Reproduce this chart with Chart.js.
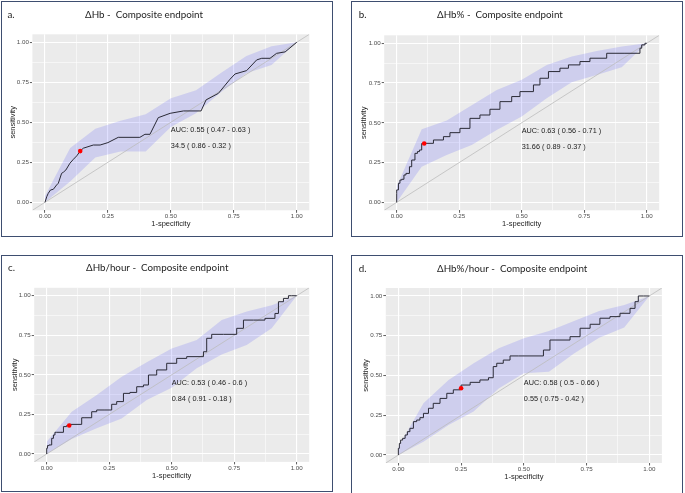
<!DOCTYPE html>
<html>
<head>
<meta charset="utf-8">
<script src="https://cdn.jsdelivr.net/npm/chart.js@4.4.0/dist/chart.umd.min.js"></script>
<style>
  html, body { margin: 0; padding: 0; background: #fff; }
  body { width: 685px; height: 493px; overflow: hidden; position: relative; }
  canvas { position: absolute; }
  .frame { position: absolute; box-sizing: border-box; border: 1.5px solid #3e4e70; pointer-events: none; }
</style>
</head>
<body>
<canvas id="chartA"></canvas>
<canvas id="chartB"></canvas>
<canvas id="chartC"></canvas>
<canvas id="chartD"></canvas>
<div class="frame" id="frameA"></div>
<div class="frame" id="frameB"></div>
<div class="frame" id="frameC"></div>
<div class="frame" id="frameD"></div>
<script>
// axis breaks (ggplot: majors labelled, minors unlabelled)
const tickValues = [0, 0.25, 0.5, 0.75, 1];
const tickLabels = ["0.00", "0.25", "0.50", "0.75", "1.00"];
const minorValues = [0.125, 0.375, 0.625, 0.875];

// specificities where the CI band was computed (as 1-specificity)
const bandFpr = [0, 0.1, 0.2, 0.3, 0.4, 0.5, 0.6, 0.7, 0.8, 0.9, 1];

// a. dHb
const aFpr = [0, 0.007, 0.013, 0.022, 0.033, 0.046, 0.053, 0.066, 0.073, 0.083, 0.099, 0.113, 0.126, 0.14, 0.152, 0.192, 0.219, 0.25, 0.291, 0.377, 0.397, 0.417, 0.45, 0.497, 0.55, 0.62, 0.64, 0.689, 0.735, 0.755, 0.801, 0.841, 0.861, 0.894, 0.92, 0.954, 1];
const aTpr = [0, 0.035, 0.056, 0.077, 0.081, 0.108, 0.119, 0.181, 0.188, 0.202, 0.244, 0.269, 0.29, 0.32, 0.338, 0.358, 0.358, 0.373, 0.406, 0.406, 0.425, 0.425, 0.529, 0.556, 0.571, 0.571, 0.64, 0.681, 0.769, 0.802, 0.823, 0.89, 0.9, 0.9, 0.931, 0.94, 1];
const aUpper = [0.04, 0.34, 0.46, 0.51, 0.55, 0.65, 0.70, 0.81, 0.915, 0.975, 1];
const aLower = [0, 0.13, 0.28, 0.317, 0.317, 0.47, 0.556, 0.69, 0.806, 0.858, 1];

// b. dHb%
const bFpr = [0, 0, 0.007, 0.013, 0.02, 0.029, 0.037, 0.051, 0.06, 0.073, 0.083, 0.091, 0.1, 0.11, 0.147, 0.187, 0.213, 0.253, 0.293, 0.333, 0.373, 0.413, 0.46, 0.493, 0.547, 0.573, 0.607, 0.653, 0.687, 0.733, 0.773, 0.84, 0.913, 0.973, 0.98, 0.993, 1];
const bTpr = [0, 0.057, 0.078, 0.12, 0.14, 0.145, 0.172, 0.182, 0.224, 0.266, 0.308, 0.319, 0.329, 0.37, 0.371, 0.392, 0.413, 0.438, 0.465, 0.528, 0.549, 0.585, 0.633, 0.665, 0.696, 0.738, 0.78, 0.822, 0.843, 0.864, 0.885, 0.906, 0.937, 0.937, 0.969, 0.99, 1];
const bUpper = [0.1, 0.46, 0.514, 0.61, 0.706, 0.77, 0.864, 0.916, 0.952, 0.979, 1];
const bLower = [0, 0.224, 0.298, 0.36, 0.455, 0.539, 0.654, 0.755, 0.8, 0.849, 1];

// c. dHb/hour
const cFpr = [0, 0.003, 0.009, 0.02, 0.027, 0.033, 0.04, 0.067, 0.08, 0.09, 0.14, 0.153, 0.18, 0.2, 0.233, 0.26, 0.28, 0.307, 0.333, 0.36, 0.387, 0.407, 0.44, 0.48, 0.52, 0.56, 0.627, 0.64, 0.66, 0.707, 0.76, 0.787, 0.827, 0.873, 0.913, 0.927, 0.947, 0.967, 0.98, 1];
const cTpr = [0, 0.036, 0.053, 0.057, 0.099, 0.12, 0.137, 0.137, 0.173, 0.18, 0.187, 0.229, 0.229, 0.267, 0.278, 0.278, 0.314, 0.331, 0.383, 0.389, 0.425, 0.436, 0.499, 0.531, 0.573, 0.604, 0.615, 0.646, 0.731, 0.756, 0.756, 0.794, 0.846, 0.846, 0.857, 0.888, 0.962, 0.983, 1, 1];
const cUpper = [0.078, 0.267, 0.373, 0.488, 0.579, 0.667, 0.72, 0.846, 0.9, 0.94, 1];
const cLower = [0, 0.095, 0.162, 0.225, 0.341, 0.419, 0.541, 0.629, 0.688, 0.794, 1];

// d. dHb%/hour
const dFpr = [0, 0.004, 0.009, 0.017, 0.027, 0.036, 0.046, 0.06, 0.073, 0.086, 0.1, 0.12, 0.139, 0.166, 0.193, 0.219, 0.246, 0.25, 0.286, 0.325, 0.359, 0.378, 0.392, 0.418, 0.445, 0.478, 0.578, 0.604, 0.624, 0.684, 0.724, 0.764, 0.803, 0.843, 0.883, 0.923, 0.943, 0.956, 0.976, 1];
const dTpr = [0, 0.042, 0.073, 0.094, 0.105, 0.126, 0.147, 0.168, 0.21, 0.22, 0.235, 0.262, 0.294, 0.325, 0.356, 0.388, 0.41, 0.42, 0.44, 0.457, 0.472, 0.486, 0.556, 0.577, 0.597, 0.623, 0.623, 0.66, 0.723, 0.723, 0.744, 0.797, 0.822, 0.86, 0.87, 0.891, 0.922, 0.964, 1, 1];
const dUpper = [0.05, 0.325, 0.472, 0.577, 0.671, 0.734, 0.78, 0.843, 0.906, 0.943, 1];
const dLower = [0, 0.084, 0.189, 0.273, 0.419, 0.514, 0.524, 0.639, 0.738, 0.801, 1];

// best thresholds (1-specificity, sensitivity)
const bestFpr = [0.14, 0.11, 0.09, 0.25];
const bestTpr = [0.32, 0.37, 0.18, 0.42];

const letters = ["a.", "b.", "c.", "d."];
const titles = ["ΔHb -  Composite endpoint", "ΔHb% -  Composite endpoint", "ΔHb/hour -  Composite endpoint", "ΔHb%/hour -  Composite endpoint"];
const aucLabels = ["AUC: 0.55 ( 0.47 - 0.63 )", "AUC: 0.63 ( 0.56 - 0.71 )", "AUC: 0.53 ( 0.46 - 0.6 )", "AUC: 0.58 ( 0.5 - 0.66 )"];
const cutLabels = ["34.5 ( 0.86 - 0.32 )", "31.66 ( 0.89 - 0.37 )", "0.84 ( 0.91 - 0.18 )", "0.55 ( 0.75 - 0.42 )"];

// layout of the four boxes, in page pixels; area = plot panel inside canvas
const boxes = [
  { canvas: "chartA", frame: "frameA", left: 1, top: 1, w: 332, h: 236, area: [31.4, 33.3, 308.3, 209.3], yTitleX: 11.7, xTitleY: 223.3, headY: 14, letterX: 6.5, titleX: 84, stepped: false },
  { canvas: "chartB", frame: "frameB", left: 351, top: 1, w: 332, h: 236, area: [33.2, 34.3, 308.2, 209.3], yTitleX: 12.7, xTitleY: 223, headY: 14, letterX: 7.7, titleX: 86, stepped: "after" },
  { canvas: "chartC", frame: "frameC", left: 1, top: 255, w: 332, h: 237, area: [33.2, 32.8, 308.2, 206.9], yTitleX: 14, xTitleY: 221, headY: 13, letterX: 7, titleX: 85, stepped: "after" },
  { canvas: "chartD", frame: "frameD", left: 351, top: 255, w: 332, h: 240, area: [34.8, 33, 310.9, 208], yTitleX: 15, xTitleY: 221.7, headY: 14, letterX: 7.7, titleX: 86, stepped: "after" }
];

const curves = [[aFpr, aTpr], [bFpr, bTpr], [cFpr, cTpr], [dFpr, dTpr]];
const bands = [[aUpper, aLower], [bUpper, bLower], [cUpper, cLower], [dUpper, dLower]];

const FONT = '"Liberation Sans", Arial, sans-serif';
const HEAD_FONT = 'Lato, "Liberation Sans", sans-serif';
Chart.defaults.font.family = FONT;

const pts = (xs, ys) => xs.map((x, i) => ({ x: x, y: ys[i] }));
const isMajor = (v) => Math.abs(v * 4 - Math.round(v * 4)) < 1e-6;

// gray panel background, header texts and the two annotation lines
const panelDecor = {
  id: "panelDecor",
  beforeDraw(chart, args, opts) {
    const { ctx, chartArea: a } = chart;
    ctx.save();
    ctx.fillStyle = "#ebebeb";
    ctx.fillRect(a.left, a.top, a.right - a.left, a.bottom - a.top);
    ctx.restore();
  },
  afterDraw(chart, args, opts) {
    const { ctx, scales } = chart;
    ctx.save();
    ctx.fillStyle = "#1e1e1e";
    ctx.textBaseline = "middle";
    ctx.textAlign = "left";
    ctx.font = "9.8px " + HEAD_FONT;
    ctx.fillText(opts.letter, opts.letterX, opts.headY);
    ctx.fillText(opts.title, opts.titleX, opts.headY);
    ctx.font = "7.3px " + FONT;
    ctx.fillStyle = "#222";
    const x = scales.x.getPixelForValue(0.5);
    ctx.fillText(opts.auc, x, scales.y.getPixelForValue(0.45));
    ctx.fillText(opts.cut, x, scales.y.getPixelForValue(0.35));
    ctx.restore();
  }
};

function axis(titleText, isY, box) {
  const [l, t, r, b] = box.area;
  const titleSize = 7.5, lh = titleSize * 1.2;
  const padLeft = 2, padBottom = 2;
  const titlePad = isY ? box.yTitleX - padLeft - lh / 2 : (box.h - padBottom) - box.xTitleY - lh / 2;
  return {
    type: "linear",
    min: -0.05,
    max: 1.05,
    afterBuildTicks: (s) => { s.ticks = tickValues.concat(minorValues).sort((p, q) => p - q).map((v) => ({ value: v })); },
    afterFit: (s) => {
      if (isY) s.width = l - padLeft;
      else s.height = box.h - padBottom - b;
    },
    ticks: {
      autoSkip: false,
      maxRotation: 0,
      padding: isY ? 1 : 0,
      color: "#4d4d4d",
      font: { size: 6.2 },
      callback: (v) => {
        const i = tickValues.findIndex((tv) => Math.abs(tv - v) < 1e-6);
        return i >= 0 ? tickLabels[i] : "";
      }
    },
    grid: {
      color: "#ffffff",
      lineWidth: (c) => (c.tick && isMajor(c.tick.value) ? 1.1 : 0.55),
      tickColor: (c) => (c.tick && isMajor(c.tick.value) ? "#333333" : "rgba(0,0,0,0)"),
      tickLength: 2.5,
      tickWidth: 0.8
    },
    border: { display: false },
    title: {
      display: true,
      text: titleText,
      color: "#1e1e1e",
      font: { size: titleSize },
      padding: isY ? { top: titlePad, bottom: 0 } : { top: 0, bottom: titlePad }
    }
  };
}

boxes.forEach((box, k) => {
  const cv = document.getElementById(box.canvas);
  cv.width = box.w; cv.height = box.h;
  cv.style.left = box.left + "px"; cv.style.top = box.top + "px";
  cv.style.width = box.w + "px"; cv.style.height = box.h + "px";
  const fr = document.getElementById(box.frame);
  fr.style.left = box.left + "px"; fr.style.top = box.top + "px";
  fr.style.width = box.w + "px"; fr.style.height = box.h + "px";

  const [l, t, r, b] = box.area;
  new Chart(cv.getContext("2d"), {
    type: "line",
    data: {
      datasets: [
        { label: "best", data: [{ x: bestFpr[k], y: bestTpr[k] }], showLine: false, pointRadius: 2.3, pointBackgroundColor: "#ff0000", pointBorderWidth: 0, order: 0 },
        { label: "roc", data: pts(curves[k][0], curves[k][1]), borderColor: "#2a2a36", borderWidth: 1, pointRadius: 0, stepped: box.stepped, order: 1 },
        { label: "chance", data: [{ x: -0.05, y: -0.05 }, { x: 1.05, y: 1.05 }], borderColor: "#bdbdbd", borderWidth: 0.8, pointRadius: 0, order: 2 },
        { label: "ci upper", data: pts(bandFpr, bands[k][0]), borderColor: "rgba(0,0,0,0)", borderWidth: 1, pointRadius: 0, fill: "+1", backgroundColor: "rgba(0,0,255,0.12)", order: 3 },
        { label: "ci lower", data: pts(bandFpr, bands[k][1]), borderColor: "rgba(0,0,0,0)", borderWidth: 1, pointRadius: 0, fill: false, order: 4 }
      ]
    },
    options: {
      responsive: false,
      animation: false,
      events: [],
      devicePixelRatio: window.devicePixelRatio || 1,
      layout: { padding: { left: 2, top: t, right: box.w - r, bottom: 2 } },
      scales: {
        x: axis("1-specificity", false, box),
        y: axis("sensitivity", true, box)
      },
      plugins: {
        legend: { display: false },
        title: { display: false },
        tooltip: { enabled: false },
        panelDecor: { letter: letters[k], title: titles[k], auc: aucLabels[k], cut: cutLabels[k], headY: box.headY, letterX: box.letterX, titleX: box.titleX }
      }
    },
    plugins: [panelDecor]
  });
});
</script>
</body>
</html>
